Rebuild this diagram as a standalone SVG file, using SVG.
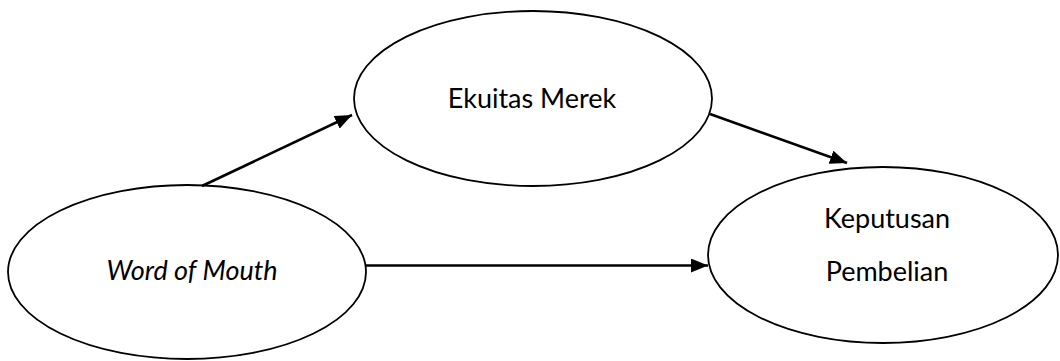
<svg xmlns="http://www.w3.org/2000/svg" width="1060" height="361" viewBox="0 0 1060 361">
<defs>
<style>
.node ellipse{fill:#fff;stroke:#000;stroke-width:1.8}
.lbl{font-family:Lato,"Liberation Sans",sans-serif;font-size:27px;fill:#000;text-anchor:middle}
.edge{stroke:#000;stroke-width:2.6;fill:none;marker-end:url(#ah)}
</style>
<marker id="ah" markerUnits="userSpaceOnUse" markerWidth="17" markerHeight="14" refX="17" refY="7" orient="auto">
<path d="M0,0 L17,7 L0,14 z" fill="#000"/>
</marker>
</defs>
<rect width="1060" height="361" fill="#fff"/>
<g id="n-wom" class="node">
<ellipse cx="187" cy="272" rx="179" ry="87"/>
<text class="lbl" x="192" y="280" font-style="italic">Word of Mouth</text>
</g>
<g id="n-ekuitas" class="node">
<ellipse cx="533" cy="98.5" rx="179" ry="87.5"/>
<text class="lbl" x="532" y="108">Ekuitas Merek</text>
</g>
<g id="n-keputusan" class="node">
<ellipse cx="883" cy="255" rx="175" ry="88"/>
<text class="lbl" x="887" y="228">Keputusan</text>
<text class="lbl" x="887" y="281">Pembelian</text>
</g>
<g id="connectors">
<line class="edge" x1="202" y1="186" x2="352" y2="115"/>
<line class="edge" x1="710" y1="114" x2="847" y2="163"/>
<line class="edge" x1="366" y1="265.5" x2="708" y2="265.5"/>
</g>
</svg>
